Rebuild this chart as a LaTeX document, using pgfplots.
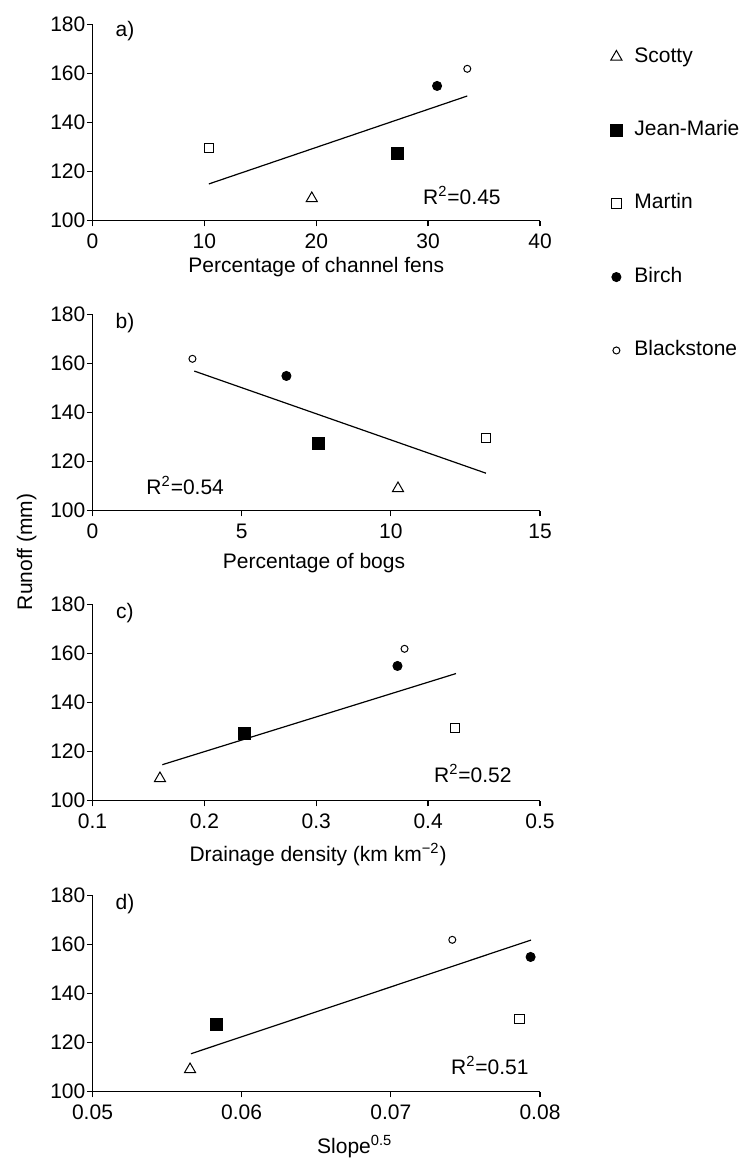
\documentclass[border=0pt]{standalone}
\usepackage{fontspec}
\setmainfont{Liberation Sans}
\usepackage{pgfplots}
\pgfplotsset{compat=1.18}
\newcommand\fsz{\fontsize{10.5pt}{12.5pt}\selectfont}
\pgfplotsset{
  panel/.style={
    width=223.75pt, height=98pt, scale only axis,
    axis lines=left, axis line style={-, line width=0.65pt},
    tick align=outside, major tick length=2.8pt,
    tick style={line width=0.65pt, black},
    ymin=100, ymax=180, ytick={100,120,140,160,180},
    yticklabels={100,120,140,160,180},
    scaled x ticks=false, scaled y ticks=false,
    enlargelimits=false, clip=false,
    yticklabel style={inner sep=0.6pt},
    tick label style={font=\fsz},
    label style={font=\fsz},
    every axis plot/.append style={black},
  },
  sc/.style={only marks, mark=triangle, mark size=3.2pt, mark options={line width=0.5pt, fill=white}},
  jm/.style={only marks, mark=square*, mark size=3pt, mark options={line width=0.5pt, fill=black}},
  ma/.style={only marks, mark=square, mark size=2.4pt, mark options={line width=0.5pt, fill=white}},
  bi/.style={only marks, mark=*, mark size=2.25pt, mark options={line width=0.5pt, fill=black}},
  bl/.style={only marks, mark=o, mark size=1.75pt, mark options={line width=0.5pt, fill=white}},
  trend/.style={black, line width=0.6pt, no marks, forget plot},
}
\begin{document}
\fsz
\begin{tikzpicture}
% ---------- a)
\begin{axis}[panel, at={(46.25pt,-110.35pt)}, anchor=south west,
  xmin=0, xmax=40, xtick={0,10,20,30,40}, xticklabels={0,10,20,30,40},
  xlabel={Percentage of channel fens},
  xlabel style={at={(axis description cs:0.5,-0.239)}, anchor=center},
  legend style={at={(axis description cs:1.1564,0.89)}, anchor=north west,
    draw=none, fill=none, inner sep=0pt, row sep=26.5pt, font=\fsz,
    nodes={inner sep=0pt, text height=7.7pt, text depth=2.5pt},
    /tikz/every odd column/.append style={column sep=6pt}},
  legend cell align=left]
\addplot[trend] coordinates {(10.4,115.0) (33.5,150.9)};
\addplot[sc] coordinates {(19.6,109.1)};
\addplot[jm] coordinates {(27.3,127.4)};
\addplot[ma] coordinates {(10.4,129.7)};
\addplot[bi] coordinates {(30.8,155.0)};
\addplot[bl] coordinates {(33.5,162.0)};
\legend{Scotty,Jean-Marie,Martin,Birch,Blackstone}
\node at (rel axis cs:0.0726,0.965) {a)};
\node[anchor=east] at (rel axis cs:0.9285,0.128) {R\textsuperscript{2}=0.45};
\end{axis}
% ---------- b)
\begin{axis}[panel, at={(46.25pt,-255.35pt)}, anchor=south west,
  xmin=0, xmax=15, xtick={0,5,10,15}, xticklabels={0,5,10,15},
  xlabel={Percentage of bogs},
  xlabel style={at={(axis description cs:0.495,-0.265)}, anchor=center},
  ylabel={Runoff (mm)},
  ylabel style={at={(axis description cs:-0.147,-0.21)}, anchor=center, rotate=0}]
\addplot[trend] coordinates {(3.41,157.0) (13.19,115.3)};
\addplot[sc] coordinates {(10.24,109.1)};
\addplot[jm] coordinates {(7.58,127.4)};
\addplot[ma] coordinates {(13.19,129.7)};
\addplot[bi] coordinates {(6.5,155.0)};
\addplot[bl] coordinates {(3.35,162.0)};
\node at (rel axis cs:0.0726,0.955) {b)};
\node[anchor=west] at (rel axis cs:0.104,0.128) {R\textsuperscript{2}=0.54};
\end{axis}
% ---------- c)
\begin{axis}[panel, at={(46.25pt,-400.35pt)}, anchor=south west,
  xmin=0.1, xmax=0.5, xtick={0.1,0.2,0.3,0.4,0.5}, xticklabels={0.1,0.2,0.3,0.4,0.5},
  xlabel={Drainage density (km km\textsuperscript{\char"2212 2})},
  xlabel style={at={(axis description cs:0.504,-0.276)}, anchor=center}]
\addplot[trend] coordinates {(0.1624,114.7) (0.4249,151.9)};
\addplot[sc] coordinates {(0.1603,109.1)};
\addplot[jm] coordinates {(0.2363,127.4)};
\addplot[ma] coordinates {(0.424,129.7)};
\addplot[bi] coordinates {(0.3726,155.0)};
\addplot[bl] coordinates {(0.3789,162.0)};
\node at (rel axis cs:0.0726,0.955) {c)};
\node[anchor=east] at (rel axis cs:0.953,0.138) {R\textsuperscript{2}=0.52};
\end{axis}
% ---------- d)
\begin{axis}[panel, at={(46.25pt,-545.85pt)}, anchor=south west,
  xmin=0.05, xmax=0.08, xtick={0.05,0.06,0.07,0.08}, xticklabels={0.05,0.06,0.07,0.08},
  xlabel={Slope\textsuperscript{0.5}},
  xlabel style={at={(axis description cs:0.586,-0.28)}, anchor=center}]
\addplot[trend] coordinates {(0.0566,115.5) (0.0794,161.9)};
\addplot[sc] coordinates {(0.05654,109.1)};
\addplot[jm] coordinates {(0.05828,127.4)};
\addplot[ma] coordinates {(0.07864,129.7)};
\addplot[bi] coordinates {(0.07937,155.0)};
\addplot[bl] coordinates {(0.07412,162.0)};
\node at (rel axis cs:0.0726,0.955) {d)};
\node[anchor=east] at (rel axis cs:0.991,0.134) {R\textsuperscript{2}=0.51};
\end{axis}
\pgfresetboundingbox
\path (0pt,0pt) rectangle (369.5pt,-579.5pt);
\end{tikzpicture}
\end{document}
